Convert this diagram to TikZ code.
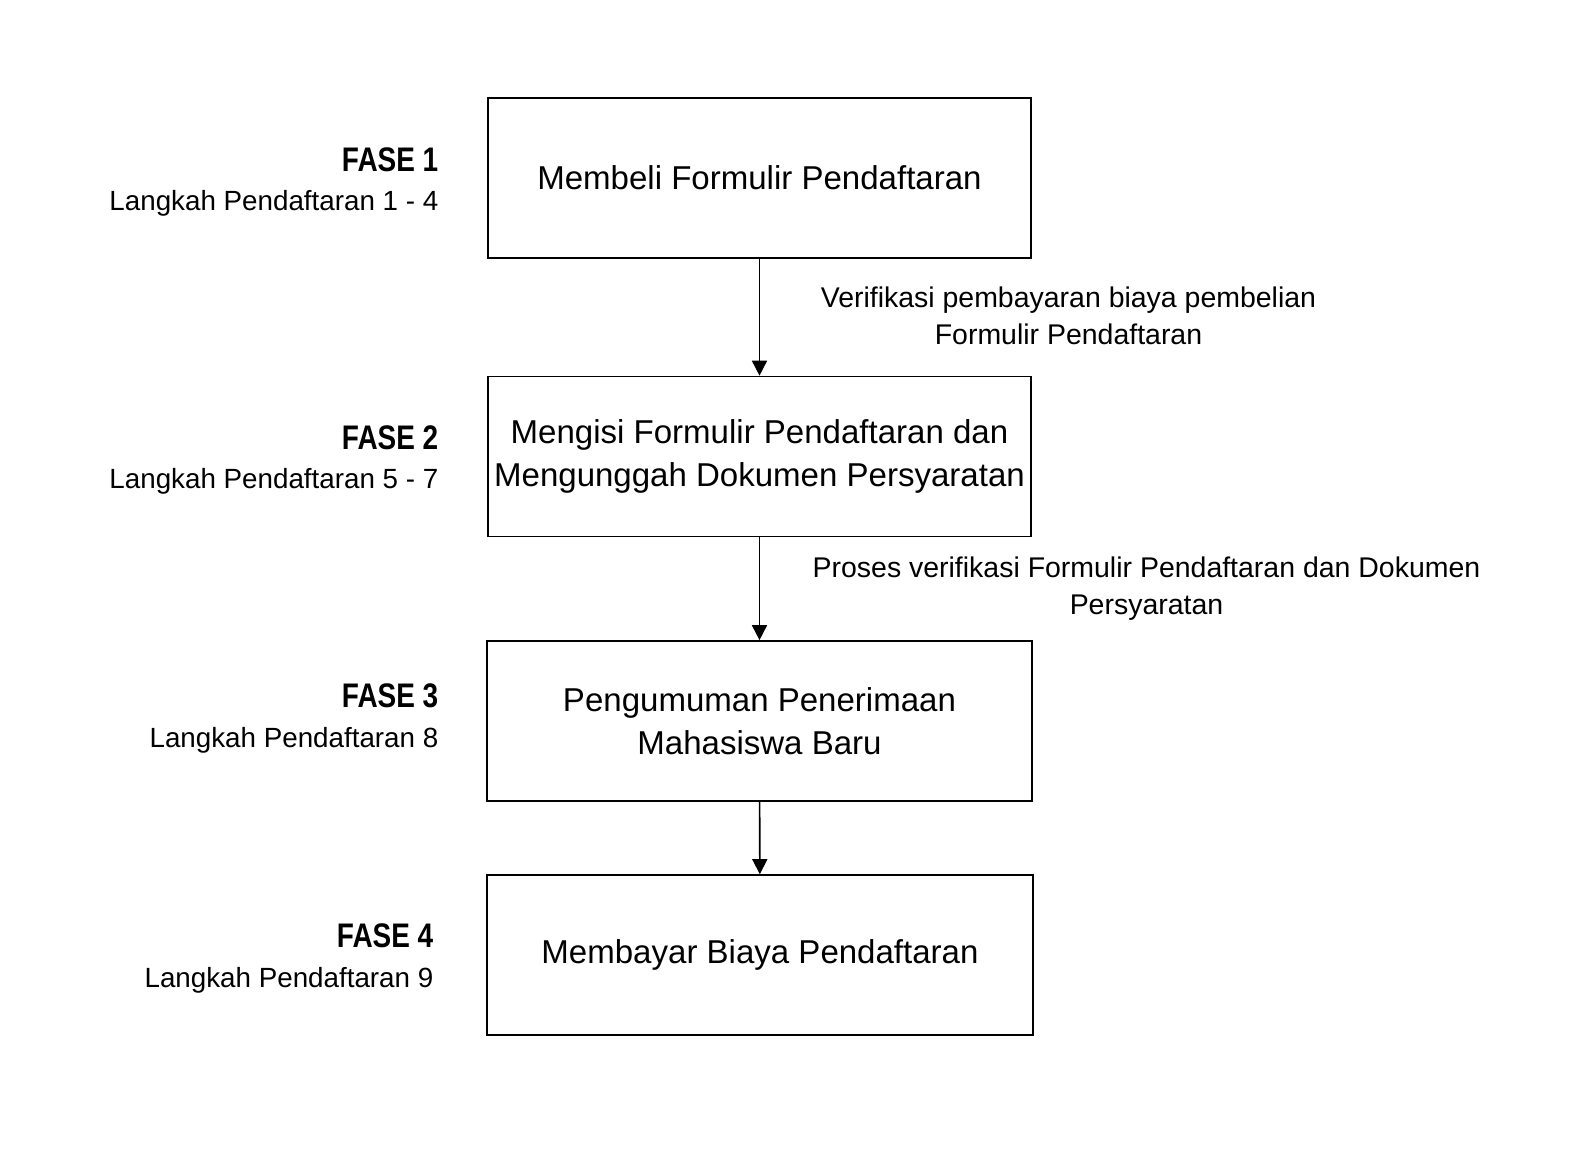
\documentclass[tikz,border=0pt]{standalone}
\usepackage{fontspec}
\setmainfont{Liberation Sans}
\newfontfamily\fasefont[FakeStretch=0.82]{Liberation Sans Bold}
\usetikzlibrary{arrows.meta}
\begin{document}
\begin{tikzpicture}[
  kotak/.style={draw, line width=0.45pt, minimum width=5.43cm, minimum height=1.6cm, align=center, inner sep=0pt, font=\fontsize{9.4}{12.2}\selectfont},
  ket/.style={align=center, inner sep=0pt, font=\fontsize{8.1}{10.4}\selectfont},
  fase/.style={anchor=base east, inner sep=0pt, font=\fasefont\fontsize{9.7}{11}\selectfont},
  langkah/.style={anchor=base east, inner sep=0pt, font=\fontsize{7.9}{10}\selectfont},
  panah/.style={-{Triangle[length=1.5mm,width=1.5mm]}, line width=0.45pt}
]
\useasboundingbox[fill=white] (0,0) rectangle (15.72,11.52);
% kotak tahapan
\node[kotak] (formulir) at (7.595,9.74) {Membeli Formulir Pendaftaran};
\node[kotak] (mengisi) at (7.595,6.955) {Mengisi Formulir Pendaftaran dan\\Mengunggah Dokumen Persyaratan};
\node[kotak, minimum width=5.45cm] (pengumuman) at (7.595,4.31) {Pengumuman Penerimaan\\Mahasiswa Baru};
\node[kotak, minimum width=5.46cm] (membayar) at (7.60,1.97) {Membayar Biaya Pendaftaran};
% keterangan fase
\node[fase] (fase1) at (4.39,9.80) {FASE 1};
\node[langkah] (langkah1) at (4.39,9.41) {Langkah Pendaftaran 1 - 4};
\node[fase] (fase2) at (4.39,7.02) {FASE 2};
\node[langkah] (langkah2) at (4.39,6.63) {Langkah Pendaftaran 5 - 7};
\node[fase] (fase3) at (4.39,4.44) {FASE 3};
\node[langkah] (langkah3) at (4.39,4.04) {Langkah Pendaftaran 8};
\node[fase] (fase4) at (4.34,2.04) {FASE 4};
\node[langkah] (langkah4) at (4.34,1.64) {Langkah Pendaftaran 9};
% panah
\draw[panah] (formulir) -- (mengisi);
\draw[panah] (mengisi) -- (pengumuman);
\draw[panah] (pengumuman) -- (membayar);
\node[ket] (verif1) at (10.685,8.36) {Verifikasi pembayaran biaya pembelian\\Formulir Pendaftaran};
\node[ket] (verif2) at (11.465,5.635) {Proses verifikasi Formulir Pendaftaran dan Dokumen\\Persyaratan};
\end{tikzpicture}
\end{document}
